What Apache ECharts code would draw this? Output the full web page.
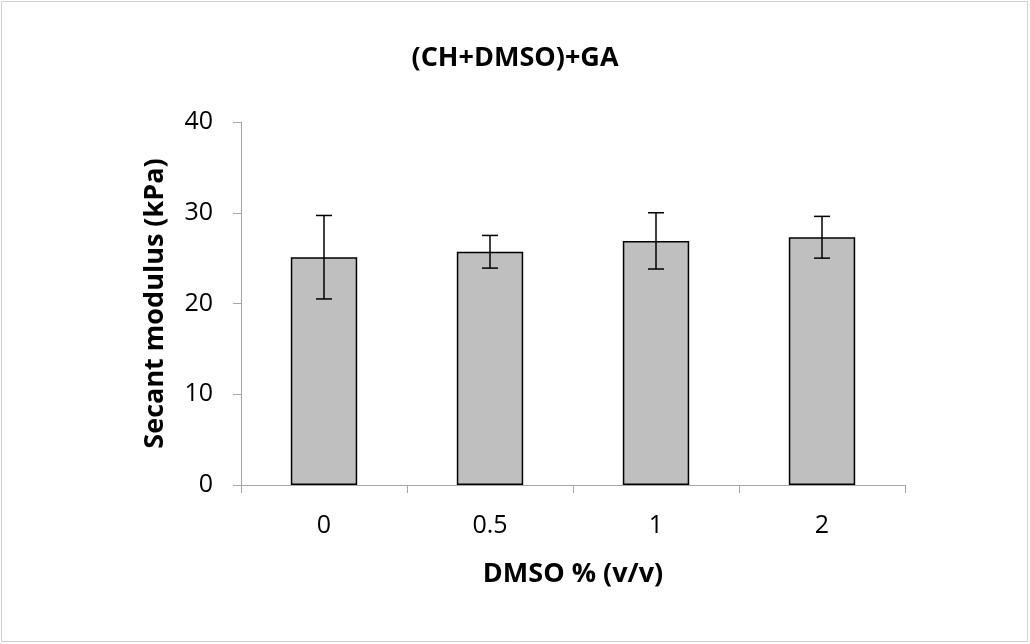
<!DOCTYPE html>
<html>
<head>
<meta charset="utf-8">
<script src="https://cdn.jsdelivr.net/npm/echarts@6/dist/echarts.min.js"></script>
<style>
  html, body { margin: 0; padding: 0; background: #fff; }
  #chart { width: 1030px; height: 644px; }
</style>
</head>
<body>
<div id="chart"></div>
<script>
// DMSO concentration groups and measured secant modulus (mean and SD, kPa)
const categories = ['0', '0.5', '1', '2'];
const meanValues = [25.1, 25.7, 26.9, 27.3];
const sdValues = [4.6, 1.8, 3.1, 2.3];
const yTicks = { min: 0, max: 40, interval: 10 };

const font = '"Open Sans", "Liberation Sans", sans-serif';
const chart = echarts.init(document.getElementById('chart'));

const errorData = categories.map((c, i) => [i, meanValues[i] - sdValues[i], meanValues[i] + sdValues[i]]);

chart.setOption({
  animation: false,
  backgroundColor: '#fff',
  graphic: [{
    type: 'rect',
    shape: { x: 1.5, y: 1.5, width: 1026, height: 640 },
    style: { fill: 'none', stroke: '#d0d0d0', lineWidth: 1 },
    silent: true
  }],
  title: {
    text: '(CH+DMSO)+GA',
    left: 'center',
    top: 40,
    textStyle: { fontFamily: font, fontSize: 27, fontWeight: 'bold', color: '#000' }
  },
  grid: { left: 241, right: 125, top: 122, bottom: 159 },
  xAxis: {
    type: 'category',
    data: categories,
    name: 'DMSO % (v/v)',
    nameLocation: 'middle',
    nameGap: 76,
    nameTextStyle: { fontFamily: font, fontSize: 27, fontWeight: 'bold', color: '#000' },
    axisLine: { lineStyle: { color: '#a6a6a6', width: 1 } },
    axisTick: { show: true, length: 8, lineStyle: { color: '#a6a6a6' } },
    axisLabel: { fontFamily: font, fontSize: 25, color: '#000', margin: 28 }
  },
  yAxis: {
    type: 'value',
    min: yTicks.min,
    max: yTicks.max,
    interval: yTicks.interval,
    name: 'Secant modulus (kPa)',
    nameLocation: 'middle',
    nameGap: 72,
    nameTextStyle: { fontFamily: font, fontSize: 27, fontWeight: 'bold', color: '#000' },
    axisLine: { show: true, lineStyle: { color: '#a6a6a6', width: 1 } },
    axisTick: { show: true, length: 8, lineStyle: { color: '#a6a6a6' } },
    splitLine: { show: false },
    axisLabel: { fontFamily: font, fontSize: 25, color: '#000', margin: 28 }
  },
  series: [
    {
      type: 'bar',
      data: meanValues,
      barWidth: '40%',
      itemStyle: { color: '#bfbfbf', borderColor: '#000', borderWidth: 1.5 },
      z: 2
    },
    {
      type: 'custom',
      data: errorData,
      z: 5,
      renderItem: function (params, api) {
        const x = api.coord([api.value(0), 0])[0];
        const lo = api.coord([api.value(0), api.value(1)])[1];
        const hi = api.coord([api.value(0), api.value(2)])[1];
        const half = 8;
        const style = { stroke: '#000', lineWidth: 1.5, fill: 'none' };
        return {
          type: 'group',
          children: [
            { type: 'line', shape: { x1: x, y1: lo, x2: x, y2: hi }, style: style },
            { type: 'line', shape: { x1: x - half, y1: hi, x2: x + half, y2: hi }, style: style },
            { type: 'line', shape: { x1: x - half, y1: lo, x2: x + half, y2: lo }, style: style }
          ]
        };
      }
    }
  ]
});
</script>
</body>
</html>
